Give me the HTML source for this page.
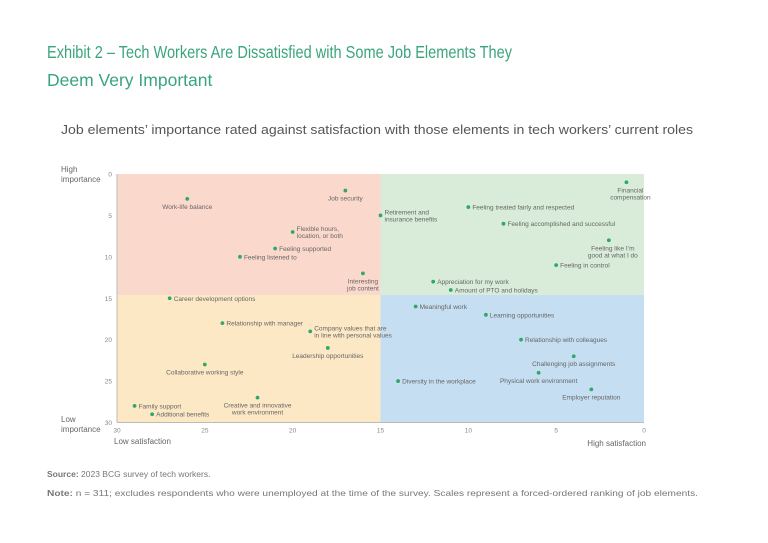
<!DOCTYPE html>
<html><head><meta charset="utf-8">
<style>
body{margin:0;background:#fff;}
svg{display:block;font-family:"Liberation Sans",sans-serif;}
</style></head>
<body>
<svg id="chart" width="768" height="543" viewBox="0 0 768 543">
<text x="47" y="58" font-size="17.5" fill="#3aa57c" textLength="465" lengthAdjust="spacingAndGlyphs">Exhibit 2 – Tech Workers Are Dissatisfied with Some Job Elements They</text>
<text x="47" y="86" font-size="17.5" fill="#3aa57c">Deem Very Important</text>
<text x="61" y="134" font-size="12.5" fill="#555" textLength="632" lengthAdjust="spacingAndGlyphs">Job elements’ importance rated against satisfaction with those elements in tech workers’ current roles</text>
<g id="plot"></g>
<text x="47" y="477" font-size="8.5" fill="#777"><tspan font-weight="bold">Source:</tspan> 2023 BCG survey of tech workers.</text>
<text x="47" y="496" font-size="8.5" fill="#777" textLength="651" lengthAdjust="spacingAndGlyphs"><tspan font-weight="bold">Note:</tspan> n = 311; excludes respondents who were unemployed at the time of the survey. Scales represent a forced-ordered ranking of job elements.</text>
</svg>
<script>
const labels = ["Work-life balance","Job security","Retirement and|insurance benefits","Flexible hours,|location, or both","Feeling supported","Feeling listened to","Interesting|job content","Financial|compensation","Feeling treated fairly and respected","Feeling accomplished and successful","Feeling like I’m|good at what I do","Feeling in control","Appreciation for my work","Amount of PTO and holidays","Career development options","Relationship with manager","Company values that are|in line with personal values","Leadership opportunities","Collaborative working style","Creative and innovative|work environment","Family support","Additional benefits","Diversity in the workplace","Meaningful work","Learning opportunities","Relationship with colleagues","Challenging job assignments","Physical work environment","Employer reputation"];
const satisfaction = [26,17,15,20,21,23,16,1,10,8,2,5,12,11,27,24,19,18,25,22,29,28,14,13,9,7,4,6,3];
const importance = [3,2,5,7,9,10,12,1,4,6,8,11,13,14,15,18,19,21,23,27,28,29,25,16,17,20,22,24,26];
const xTicks = [30,25,20,15,10,5,0];
const yTicks = [0,5,10,15,20,25,30];
// label placement codes (styling): r = right of dot, b = below centered, bc = below, shifted
const place = ["b","b","r","r","r","r","b","bc","r","r","bc","r","r","r","r","r","r","b","b","b","r","r","r","r","r","r","b","b","b"];

const NS="http://www.w3.org/2000/svg";
const plot=document.getElementById('plot');
const X0=117,X1=644,Y0=174,Y1=422.5;
const xs=v=>X1-(X1-X0)*v/30;
const ys=v=>Y0+(Y1-Y0)*v/30;
function mk(tag,attrs){const e=document.createElementNS(NS,tag);for(const k in attrs)e.setAttribute(k,attrs[k]);plot.appendChild(e);return e;}
const split=ys(14.6);
const quads=[[X0,Y0,xs(15)-X0,split-Y0,'#fbd8cc','quadrant-low-sat-high-imp'],[xs(15),Y0,X1-xs(15),split-Y0,'#d8ecd9','quadrant-high-sat-high-imp'],[X0,split,xs(15)-X0,Y1-split,'#fde8c6','quadrant-low-sat-low-imp'],[xs(15),split,X1-xs(15),Y1-split,'#c6def1','quadrant-high-sat-low-imp']];
quads.forEach(q=>{const r=mk('rect',{x:q[0],y:q[1],width:q[2],height:q[3],fill:q[4]});

});
const ax=mk('line',{x1:X0,y1:Y0,x2:X0,y2:Y1,stroke:'#bbb','stroke-width':1});


const bx=mk('line',{x1:X0,y1:Y1,x2:X1,y2:Y1,stroke:'#bbb','stroke-width':1});


xTicks.forEach(t=>{const e=mk('text',{x:xs(t),y:Y1+10,'font-size':6.5,fill:'#888','text-anchor':'middle'});e.textContent=t;

});
yTicks.forEach(t=>{const e=mk('text',{x:X0-5,y:ys(t)+2.5,'font-size':6.5,fill:'#888','text-anchor':'end'});e.textContent=t;

});
[['High',61,172,'start','y-axis-high-label'],['importance',61,182,'start','y-axis-high-label-2'],['Low',61,422,'start','y-axis-low-label'],['importance',61,432,'start','y-axis-low-label-2'],['Low satisfaction',114,444,'start','x-axis-low-label'],['High satisfaction',646,446,'end','x-axis-high-label']].forEach(a=>{const e=mk('text',{x:a[1],y:a[2],'font-size':8,fill:'#666','text-anchor':a[3]});e.textContent=a[0];

});
labels.forEach((lab,i)=>{const cx=xs(satisfaction[i]),cy=ys(importance[i]);
const d=mk('circle',{cx:cx,cy:cy,r:1.9,fill:'#2fa86a'});


const lines=lab.split('|');const p=place[i];
lines.forEach((ln,j)=>{let x,y,anchor;
if(p==='r'){x=cx+4;y=cy+2.5+j*7-(lines.length-1)*3.5;anchor='start';}
else if(p==='bc'){x=cx+4;y=cy+10+j*7;anchor='middle';}
else{x=cx;y=cy+10+j*7;anchor='middle';}
const t=mk('text',{x:x,y:y,'font-size':6.5,fill:'#666','text-anchor':anchor});t.textContent=ln;

});});
</script>
</body></html>
